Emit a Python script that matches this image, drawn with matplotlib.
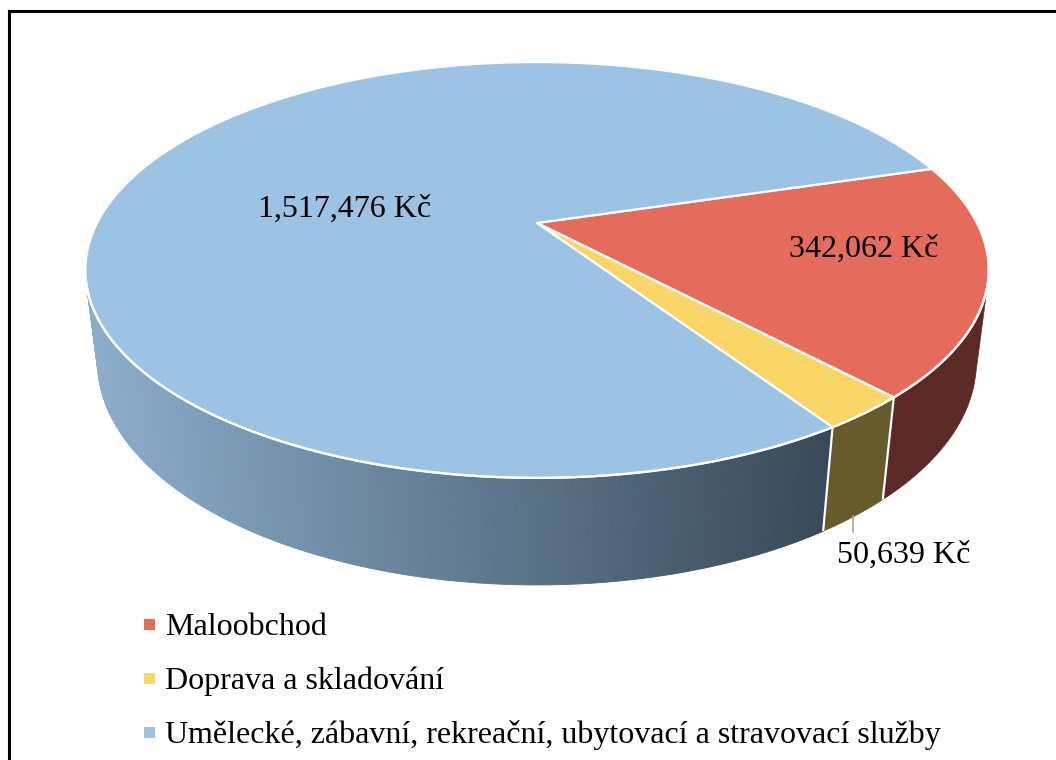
import numpy as np
import matplotlib
matplotlib.use("Agg")
import matplotlib.pyplot as plt
from matplotlib.patches import Polygon, Rectangle

# ---- data ----
categories = ["Maloobchod", "Doprava a skladování",
              "Umělecké, zábavní, rekreační, ubytovací a stravovací služby"]
values = [342062, 50639, 1517476]
value_labels = ["342,062 Kč", "50,639 Kč", "1,517,476 Kč"]
top_colors = ["#E56B5D", "#FAD668", "#9CC2E4"]
side_colors = ["#5B2A27", "#675A2B", None]  # blue side uses a gradient

W, H = 1056, 760
fig = plt.figure(figsize=(W / 100, H / 100), dpi=100)
ax = fig.add_axes([0, 0, 1, 1])
ax.set_xlim(0, W)
ax.set_ylim(H, 0)
ax.axis("off")

# ---- perspective camera (pie radius = 1) ----
CX, CY = 537.0, 223.0
phi = np.arcsin(0.4484)
L = 3.955
F = 1740.0
h = 0.2353
f_vec = np.array([0, np.cos(phi), -np.sin(phi)])
d_vec = np.array([0, -np.sin(phi), -np.cos(phi)])
P = np.array([0, -L * np.cos(phi), L * np.sin(phi)])


def proj(theta, r=1.0, z=0.0):
    theta = np.atleast_1d(theta)
    Q = np.stack([r * np.cos(theta), r * np.sin(theta), np.full_like(theta, z)], axis=1)
    rel = Q - P
    depth = rel @ f_vec
    down = rel @ d_vec
    return np.stack([CX + F * rel[:, 0] / depth, CY + F * down / depth], axis=1)


total = sum(values)
start = np.deg2rad(17.0)
bounds = [start]
for v in values:
    bounds.append(bounds[-1] - 2 * np.pi * v / total)

# visible side range
s_lim = -1.0 / (L * np.cos(phi))
vis_lo = -np.pi - np.arcsin(s_lim)
vis_hi = np.arcsin(s_lim)


def norm_range(a_hi, a_lo):
    out = []
    for k in (-1, 0, 1):
        hi = a_hi + 2 * np.pi * k
        lo = a_lo + 2 * np.pi * k
        ihi = min(hi, vis_hi)
        ilo = max(lo, vis_lo)
        if ihi > ilo:
            out.append((ihi, ilo))
    return out


blue_light = np.array([0x8C, 0xAD, 0xCB]) / 255
blue_dark = np.array([0x38, 0x48, 0x58]) / 255

# ---- side faces ----
for i in range(len(values)):
    for hi, lo in norm_range(bounds[i], bounds[i + 1]):
        if side_colors[i] is not None:
            th = np.linspace(hi, lo, 200)
            top = proj(th)
            bot = proj(th, z=-h)
            poly = np.vstack([top, bot[::-1]])
            ax.add_patch(Polygon(poly, closed=True, facecolor=side_colors[i],
                                 edgecolor=side_colors[i], lw=0.5))
        else:
            n = 300
            th = np.linspace(hi, lo, n + 1)
            top = proj(th)
            bot = proj(th, z=-h)
            x0, x1 = 95.0, 830.0
            for j in range(n):
                quad = np.array([top[j], top[j + 1], bot[j + 1], bot[j]])
                xm = quad[:, 0].mean()
                t = np.clip((xm - x0) / (x1 - x0), 0, 1)
                c = blue_light * (1 - t) + blue_dark * t
                ax.add_patch(Polygon(quad, closed=True, facecolor=c,
                                     edgecolor=c, lw=0.6))

# vertical white edges on side at slice boundaries
for b in bounds:
    for k in (-1, 0, 1):
        a = b + 2 * np.pi * k
        if vis_lo < a < vis_hi:
            p1 = proj(a)[0]
            p2 = proj(a, z=-h)[0]
            ax.plot([p1[0], p2[0]], [p1[1], p2[1]], color="white", lw=1.6,
                    solid_capstyle="butt")

th = np.linspace(vis_hi, vis_lo, 400)
rim = proj(th)

# ---- top faces ----
center = proj(0.0, r=0.0)[0]
for i in range(len(values)):
    th = np.linspace(bounds[i], bounds[i + 1], 400)
    arc = proj(th)
    poly = np.vstack([center, arc])
    ax.add_patch(Polygon(poly, closed=True, facecolor=top_colors[i],
                         edgecolor="white", lw=1.6, joinstyle="round"))

ax.plot(rim[:, 0], rim[:, 1], color="white", lw=1.6)

# ---- data labels ----
serif = ["Liberation Serif", "DejaVu Serif"]
fs = 23
ax.text(345, 217, value_labels[2], fontsize=fs, family=serif, ha="center", va="baseline")
ax.text(864, 257, value_labels[0], fontsize=fs, family=serif, ha="center", va="baseline")
ax.text(904, 563, value_labels[1], fontsize=fs, family=serif, ha="center", va="baseline")
ax.plot([853, 853], [516, 532], color="#A6A6A6", lw=1.2)

# ---- legend ----
baselines = [635, 689, 743]
for i, (cat, col) in enumerate(zip(categories, top_colors)):
    yb = baselines[i]
    ax.add_patch(Rectangle((144, yb - 16), 11, 11, facecolor=col, edgecolor="none"))
    ax.text(165, yb, cat, fontsize=fs, family=serif, ha="left", va="baseline")

# ---- frame ----
ax.plot([9, 9], [11, H + 5], color="black", lw=2.2, solid_capstyle="projecting")
ax.plot([9, W + 5], [11, 11], color="black", lw=2.2, solid_capstyle="projecting")

fig.savefig("out.png", dpi=100)
